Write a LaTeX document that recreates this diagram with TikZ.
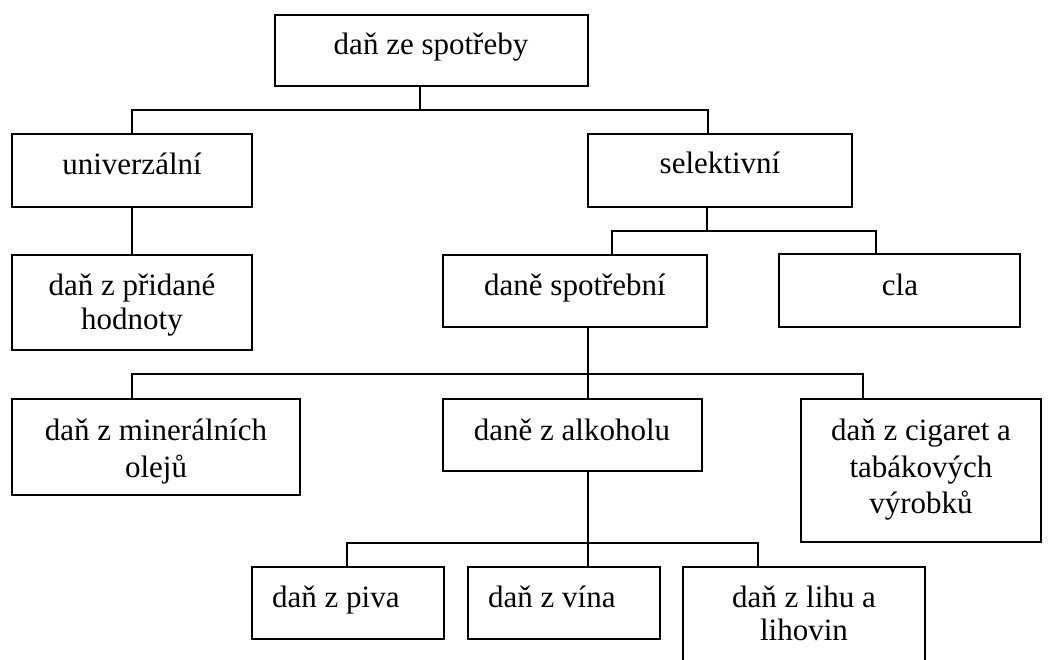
\documentclass[tikz,border=0pt]{standalone}
\usepackage{fontspec}
\setmainfont{Liberation Serif}
\begin{document}
\begin{tikzpicture}[x=1pt,y=-1pt,
  box/.style={draw=black,line width=2pt,rectangle,inner sep=0pt,fill=white},
  txt/.style={anchor=base,inner sep=0pt,font=\fontsize{31}{34}\selectfont},
  txtw/.style={anchor=base west,inner sep=0pt,font=\fontsize{31}{34}\selectfont},
  conn/.style={draw=black,line width=2pt}]
\useasboundingbox (0,0) rectangle (1062,660);
\clip (0,0) rectangle (1062,660);
% boxes
\node[box,minimum width=313pt,minimum height=71pt] (top) at (431.5,50.5) {};
\node[box,minimum width=240pt,minimum height=73pt] (univ) at (132,170.5) {};
\node[box,minimum width=240pt,minimum height=95pt] (dph) at (132,302.5) {};
\node[box,minimum width=264pt,minimum height=73pt] (sel) at (720,170.5) {};
\node[box,minimum width=264pt,minimum height=72pt] (spot) at (575,291) {};
\node[box,minimum width=241pt,minimum height=73pt] (cla) at (899.5,290.5) {};
\node[box,minimum width=288pt,minimum height=96pt] (min) at (156,447) {};
\node[box,minimum width=259pt,minimum height=72pt] (alk) at (572.5,435) {};
\node[box,minimum width=240pt,minimum height=143pt] (cig) at (921,470.5) {};
\node[box,minimum width=192pt,minimum height=72pt] (piva) at (348,603) {};
\node[box,minimum width=192pt,minimum height=72pt] (vina) at (564,603) {};
\node[box,minimum width=242pt,minimum height=123pt] (lihu) at (804,628.5) {};
% texts
\node[txt] (t-top) at (431,55) {daň ze spotřeby};
\node[txt] (t-univ) at (132,175) {univerzální};
\node[txt] (t-sel) at (720,174) {selektivní};
\node[txt] (t-dph1) at (132,295) {daň z přidané};
\node[txt] (t-dph2) at (132,329) {hodnoty};
\node[txt] (t-spot) at (575,295) {daně spotřební};
\node[txt] (t-cla) at (900,295) {cla};
\node[txt] (t-min1) at (156,440) {daň z minerálních};
\node[txt] (t-min2) at (156,477) {olejů};
\node[txt] (t-alk) at (572,440) {daně z alkoholu};
\node[txt] (t-cig1) at (921,440) {daň z cigaret a};
\node[txt] (t-cig2) at (921,477) {tabákových};
\node[txt] (t-cig3) at (921,513) {výrobků};
\node[txtw] (t-piva) at (272,607) {daň z piva};
\node[txtw] (t-vina) at (488,607) {daň z vína};
\node[txt] (t-lihu1) at (804,607) {daň z lihu a};
\node[txt] (t-lihu2) at (804,640) {lihovin};
% junctions
\coordinate (j1) at (420,110);
\coordinate (j2) at (707,231);
\coordinate (j3) at (588,374);
\coordinate (j4) at (588,543);
% connectors
\draw[conn] (top.south -| j1) -- (j1);
\draw[conn] (univ.north) |- (j1) -| ([xshift=-12pt]sel.north);
\draw[conn] (univ.south) -- (dph.north);
\draw[conn] (sel.south -| j2) -- (j2);
\draw[conn] ([xshift=37pt]spot.north) |- (j2) -| ([xshift=-23.5pt]cla.north);
\draw[conn] ([xshift=13pt]spot.south) -- ([xshift=15.5pt]alk.north);
\draw[conn] ([xshift=-24pt]min.north) |- (j3) -| ([xshift=-58pt]cig.north);
\draw[conn] ([xshift=15.5pt]alk.south) -- ([xshift=24pt]vina.north);
\draw[conn] ([xshift=-1pt]piva.north) |- (j4) -| ([xshift=-46pt]lihu.north);
\end{tikzpicture}
\end{document}
